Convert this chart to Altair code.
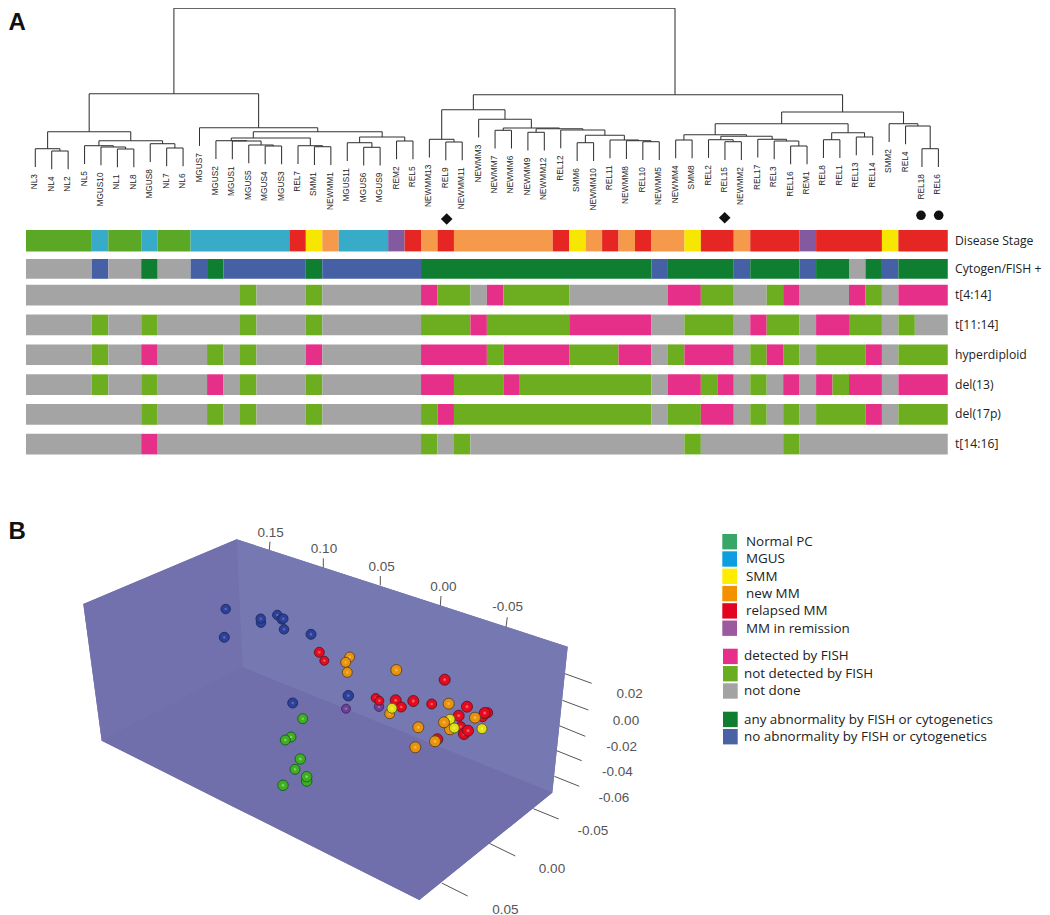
import altair as alt
import pandas as pd

# ---------- samples and dendrogram ----------
SAMPLES = """NL3 NL4 NL2 NL5 MGUS10 NL1 NL8 MGUS8 NL7 NL6 MGUS7 MGUS2 MGUS1 MGUS5 MGUS4 MGUS3 REL7 SMM1 NEWMM1
MGUS11 MGUS6 MGUS9 REM2 REL5 NEWMM13 REL9 NEWMM11 NEWMM3 NEWMM7 NEWMM6 NEWMM9 NEWMM12 REL12 SMM6 NEWMM10 REL11
NEWMM8 REL10 NEWMM5 NEWMM4 SMM8 REL2 REL15 NEWMM2 REL17 REL3 REL16 REM1 REL8 REL1 REL13 REL14 SMM2 REL4 REL18 REL6""".split()

TREE = (8.3,
    (93.7,
        (131.7,
            (148.7, "NL3", (151.0, "NL4", "NL2")),
            (140.7,
                (145.7, "NL5", (147.0, "MGUS10", (149.0, "NL1", "NL8"))),
                (143.7, "MGUS8", (148.0, "NL7", "NL6")))),
        (127.7, "MGUS7",
            (131.7,
                (138.0,
                    (140.7, "MGUS2", (141.0, "MGUS1", (145.0, "MGUS5", (146.0, "MGUS4", "MGUS3")))),
                    (145.7, "REL7", (146.7, "SMM1", "NEWMM1")),
                    253.3),
                (137.0,
                    (142.7, "MGUS11", (147.3, "MGUS6", "MGUS9")),
                    (141.0, "REM2", "REL5"))))),
    (94.7,
        (109.7,
            (139.3, "NEWMM13", (142.0, "REL9", "NEWMM11")),
            (119.3, "NEWMM3",
                (128.0,
                    (130.3, "NEWMM7", "NEWMM6"),
                    (128.7,
                        (132.3, "NEWMM9", "NEWMM12"),
                        (130.0, "REL12",
                            (135.3,
                                (142.7, "SMM6", "NEWMM10"),
                                (140.0, "REL11",
                                    (140.7, "NEWMM8", (141.7, "REL10", "NEWMM5"))))))))),
        (112.0,
            (123.7,
                (134.7,
                    (140.0, "NEWMM4", "SMM8"),
                    (136.3,
                        (139.7, "REL2", (141.7, "REL15", "NEWMM2")),
                        (139.3, "REL17", (141.0, "REL3", (146.0, "REL16", "REM1"))))),
                (132.7,
                    (139.7, "REL8", "REL1"),
                    (137.0, "REL13", "REL14"))),
            (123.7, "SMM2", (126.0, "REL4", (148.7, "REL18", "REL6")))),
        675.0))

LEAF_START = 35.3
LEAF_STEP = 16.42
LEAF_HANG = 18.2
LABEL_GAP = 7.2

# ---------- annotation rows (run lengths over samples) ----------
ROW_NAMES = ["Disease Stage", "Cytogen/FISH +", "t[4:14]", "t[11:14]", "hyperdiploid", "del(13)", "del(17p)", "t[14:16]"]
ROW_TOP = [230.0, 259.0, 284.8, 314.6, 344.4, 374.3, 404.0, 433.8]
ROW_BOTTOM = [251.4, 278.8, 305.4, 335.3, 365.0, 395.0, 424.8, 454.4]

STAGE = [("N",4),("M",1),("N",2),("M",1),("N",2),("M",6),("R",1),("S",1),("O",1),("M",3),("P",1),("R",1),("O",1),("R",1),
         ("O",6),("R",1),("S",1),("O",1),("R",1),("O",1),("R",1),("O",2),("S",1),("R",2),("O",1),("R",3),("P",1),("R",4),("S",1),("R",3)]
CYTO = [("U",4),("B",1),("U",2),("G",1),("U",2),("B",1),("G",1),("B",5),("G",1),("B",6),("G",14),("B",1),("G",4),("B",1),
        ("G",3),("B",1),("G",2),("U",1),("G",1),("B",1),("G",3)]
T414 = [("U",13),("F",1),("U",3),("F",1),("U",6),("D",1),("F",2),("U",1),("D",1),("F",4),("U",6),("D",2),("F",2),("U",2),
        ("F",1),("D",1),("U",3),("D",1),("F",1),("U",1),("D",3)]
T1114 = [("U",4),("F",1),("U",2),("F",1),("U",5),("F",1),("U",3),("F",1),("U",6),("F",3),("D",1),("F",5),("D",5),("U",2),
         ("F",3),("U",1),("D",1),("F",2),("U",1),("D",2),("F",2),("U",1),("F",1),("U",2)]
HYPER = [("U",4),("F",1),("U",2),("D",1),("U",3),("F",1),("U",1),("F",1),("U",3),("D",1),("U",6),("D",4),("F",1),("D",4),
         ("F",3),("D",2),("U",1),("F",1),("D",3),("U",1),("F",1),("D",1),("F",1),("U",1),("F",3),("D",1),("U",1),("F",3)]
DEL13 = [("U",4),("F",1),("U",2),("F",1),("U",3),("D",1),("U",1),("F",1),("U",3),("F",1),("U",6),("D",2),("F",3),("D",1),
         ("F",8),("U",1),("D",2),("F",1),("D",1),("U",1),("F",1),("U",1),("D",1),("U",1),("D",1),("F",1),("D",2),("U",1),("D",3)]
DEL17 = [("U",7),("F",1),("U",3),("F",1),("U",1),("F",1),("U",3),("F",1),("U",6),("F",1),("D",1),("F",12),("U",1),("F",2),
         ("D",2),("U",1),("F",1),("U",1),("F",1),("U",1),("F",3),("D",1),("U",1),("F",3)]
T1416 = [("U",7),("D",1),("U",16),("F",1),("U",1),("F",1),("U",13),("F",1),("U",5),("F",1),("U",9)]
ROWS = [STAGE, CYTO, T414, T1114, HYPER, DEL13, DEL17, T1416]

COL_START = 26.0
COL_STEP = 16.46
CELL_COLORS = {"N":"#5ba826","M":"#38abc9","R":"#e52622","S":"#f6e600","O":"#f59a4b","P":"#835a9f",
               "U":"#a4a4a4","B":"#4560a5","G":"#0f7e30","F":"#6cae20","D":"#e62f88"}

# ---------- marks over the tree ----------
DIAMOND_X = [446.7, 724.7]
DIAMOND_Y = [219.0, 217.7]
DOT_X = [921.0, 938.7]
DOT_Y = [215.3, 215.3]

# ---------- 3D box ----------
BOX_A = (236.7, 539.3); BOX_B = (83.3, 604.0); BOX_C = (101.7, 740.7)
BOX_D = (567.7, 646.7); BOX_E = (552.3, 792.7); BOX_F = (419.3, 900.0); BOX_G = (242.7, 667.3)
LEFT_WALL = [BOX_A, BOX_B, BOX_C, BOX_G]
BACK_WALL = [BOX_A, BOX_D, BOX_E, BOX_G]
FLOOR = [BOX_C, BOX_G, BOX_E, BOX_F]
OUTLINE = [BOX_A, BOX_B, BOX_C, BOX_F, BOX_E, BOX_D]

TICKS = [(270.0,541.7,269.3,550.0),(323.3,558.3,323.3,567.7),(380.3,576.0,380.3,585.3),(441.0,596.0,440.3,605.7),(507.3,617.3,506.0,627.3),
         (565.0,673.7,591.7,683.3),(562.3,700.3,588.3,710.0),(559.3,725.7,585.3,736.3),(556.7,750.7,581.7,760.7),(554.3,776.3,579.3,786.3),
         (533.3,808.7,558.7,819.0),(489.3,843.3,515.3,856.0),(441.7,883.0,467.7,896.0)]
TICK_TEXT = ["0.15","0.10","0.05","0.00","-0.05","0.02","0.00","-0.02","-0.04","-0.06","-0.05","0.00","0.05"]
TICK_TEXT_X = [270.7,324.0,381.7,443.3,507.7,629.7,626.0,621.7,617.3,614.0,593.0,552.0,505.3]
TICK_TEXT_Y = [532.7,549.0,566.7,586.7,607.3,693.7,720.7,747.0,772.3,797.7,831.3,869.0,909.5]

# ---------- points (x, y, diameter) ----------
PURPLE_PTS = [(346.0,708.7,9),(379.0,706.7,9.5)]
BLUE_PTS = [(225.7,609.0,9.5),(261.0,622.7,9.5),(260.7,618.7,9.5),(277.3,615.0,9.5),(281.7,619.3,9.5),(283.3,618.7,9.5),
            (284.0,629.3,9.5),(311.0,634.3,10),(224.3,637.3,10),(292.7,703.0,10),(348.3,695.7,10.5)]
GREEN_PTS = [(302.7,718.7,10),(291.0,737.0,10),(285.3,740.0,10),(300.3,759.0,10.5),(295.0,769.3,10),(306.7,781.0,10.5),(306.7,776.7,10.5),(283.0,785.3,10.5)]
RED_PTS = [(319.3,652.3,10),(324.3,660.7,9),(444.7,679.7,11),(375.7,698.0,9),(379.3,700.7,9),(395.7,700.3,11),(401.3,707.0,10),
           (413.3,701.0,11),(431.7,704.0,10),(467.0,706.7,11),(458.7,715.7,11),(487.7,712.7,10),(482.7,716.7,10),(484.7,713.0,11),
           (460.7,726.7,10),(464.0,734.0,11),(468.0,730.7,11),(437.3,739.3,11)]
ORANGE_PTS = [(349.7,657.0,10),(345.7,662.3,10),(347.3,672.3,10),(396.3,670.0,11),(448.7,703.7,11),(389.7,713.7,10),(475.0,717.7,11),
              (450.0,729.3,11),(418.3,727.3,11),(435.0,741.3,11),(415.3,747.3,11)]
YELLOW_PTS = [(392.0,708.3,10),(450.0,719.3,10),(454.3,728.0,10),(482.0,728.7,10)]
ORANGE_TOP = [(444.0,722.3,11)]

# ---------- legend ----------
LEG1_NAMES = ["Normal PC","MGUS","SMM","new MM","relapsed MM","MM in remission"]
LEG1_COLORS = ["#37a666","#0d9edf","#ffec00","#f39200","#e30421","#9c5a9e"]
LEG2_NAMES = ["detected by FISH","not detected by FISH","not done"]
LEG2_COLORS = ["#e62f8a","#69ad23","#a3a3a3"]
LEG3_NAMES = ["any abnormality by FISH or cytogenetics","no abnormality by FISH or cytogenetics"]
LEG3_COLORS = ["#107d30","#4a63a5"]
LEG_STEP = 17.3

# ---------- scales: picture coordinates of the figure ----------
sx = alt.Scale(domain=[8, 1042], range=[0, 1034], nice=False, zero=False)
sy = alt.Scale(domain=[8, 915], range=[0, 907], nice=False, zero=False)
X = lambda f: alt.X(f, type="quantitative", scale=sx, axis=None, title=None)
Y = lambda f: alt.Y(f, type="quantitative", scale=sy, axis=None, title=None)
SANS = "Liberation Sans"
HUMAN = "Open Sans"

# dendrogram segments
pos = {s: LEAF_START + LEAF_STEP * i for i, s in enumerate(SAMPLES)}
segs = []
def walk(node):
    """returns x of the node, and adds its horizontal bar and vertical drops"""
    h, a, b = node[:3]
    xs = []
    for child in (a, b):
        if isinstance(child, str):
            cx = pos[child]
            segs.append(dict(x=cx, x2=cx, y=h, y2=h + LEAF_HANG))
        else:
            cx = walk(child)
            segs.append(dict(x=cx, x2=cx, y=h, y2=child[0]))
        xs.append(cx)
    segs.append(dict(x=xs[0], x2=xs[1], y=h, y2=h))
    return node[3] if len(node) > 3 else (xs[0] + xs[1]) / 2
walk(TREE)

def leaf_heights(node, out):
    for child in node[1:3]:
        if isinstance(child, str):
            out[child] = node[0] + LEAF_HANG
        else:
            leaf_heights(child, out)
    return out
bottoms = leaf_heights(TREE, {})
leaf_df = pd.DataFrame([dict(x=pos[s], y=bottoms[s] + LABEL_GAP, t=s) for s in SAMPLES])

dendro = alt.Chart(pd.DataFrame(segs)).mark_rule(color="#333333", strokeWidth=1.05).encode(
    x=X("x"), x2="x2", y=Y("y"), y2="y2")
leaf_text = alt.Chart(leaf_df).mark_text(angle=270, align="right", baseline="middle", font=SANS, fontSize=8.3, color="#262626").encode(
    x=X("x"), y=Y("y"), text="t:N")

# heat rows
cells = []
for r, runs in enumerate(ROWS):
    i = 0
    for code, n in runs:
        cells.append(dict(x=COL_START + COL_STEP * i, x2=COL_START + COL_STEP * (i + n), y=ROW_TOP[r], y2=ROW_BOTTOM[r], c=CELL_COLORS[code]))
        i += n
    assert i == 56, (r, i)
heat = alt.Chart(pd.DataFrame(cells)).mark_rect(strokeWidth=0).encode(
    x=X("x"), x2="x2", y=Y("y"), y2="y2", fill=alt.Fill("c:N", scale=None, legend=None))
row_text = alt.Chart(pd.DataFrame(dict(x=[955.0] * 8, y=[(a + b) / 2 for a, b in zip(ROW_TOP, ROW_BOTTOM)], t=ROW_NAMES))).mark_text(
    align="left", baseline="middle", font=HUMAN, fontSize=12.2, color="#222222").encode(x=X("x"), y=Y("y"), text="t:N")

diamonds = alt.Chart(pd.DataFrame(dict(x=DIAMOND_X, y=DIAMOND_Y))).mark_point(shape="diamond", filled=True, color="#111111", size=135, opacity=1).encode(x=X("x"), y=Y("y"))
dots = alt.Chart(pd.DataFrame(dict(x=DOT_X, y=DOT_Y))).mark_point(shape="circle", filled=True, color="#111111", size=92, opacity=1).encode(x=X("x"), y=Y("y"))

# box faces as areas
def poly_area(poly, color):
    xs = sorted(set(p[0] for p in poly))
    rows = []
    n = len(poly)
    for x in xs:
        ys = []
        for k in range(n):
            (x0, y0), (x1, y1) = poly[k], poly[(k + 1) % n]
            if min(x0, x1) <= x <= max(x0, x1):
                if x0 == x1:
                    ys += [y0, y1]
                else:
                    ys.append(y0 + (y1 - y0) * (x - x0) / (x1 - x0))
        rows.append(dict(x=x, y=min(ys), y2=max(ys)))
    return alt.Chart(pd.DataFrame(rows)).mark_area(color=color, opacity=1, line=False).encode(x=X("x"), y=Y("y"), y2="y2")

box = [poly_area(OUTLINE, "#7272ad"), poly_area(LEFT_WALL, "#7271ad"), poly_area(BACK_WALL, "#7678b2"), poly_area(FLOOR, "#706eab")]

tick_df = pd.DataFrame(TICKS, columns=["x", "y", "x2", "y2"])
ticks = alt.Chart(tick_df).mark_rule(color="#555555", strokeWidth=1).encode(x=X("x"), x2="x2", y=Y("y"), y2="y2")
tick_text = alt.Chart(pd.DataFrame(dict(x=TICK_TEXT_X, y=TICK_TEXT_Y, t=TICK_TEXT))).mark_text(
    align="center", baseline="middle", font=SANS, fontSize=13.5, color="#555555").encode(x=X("x"), y=Y("y"), text="t:N")

def spheres(pts, edge, body, glow):
    df = pd.DataFrame(pts, columns=["x", "y", "d"])
    df["s"] = df["d"] ** 2
    grad = alt.RadialGradient(gradient="radial", stops=[alt.GradientStop(offset=0, color=glow),
                                                        alt.GradientStop(offset=0.35, color=body),
                                                        alt.GradientStop(offset=1, color=body)])
    return alt.Chart(df).mark_point(shape="circle", filled=True, fill=grad, stroke=edge, strokeWidth=1, opacity=1, fillOpacity=1, strokeOpacity=0.9).encode(
        x=X("x"), y=Y("y"), size=alt.Size("s:Q", scale=None, legend=None))

balls = [spheres(PURPLE_PTS, "#3e2a5e", "#6b3f98", "#b79ad0"),
         spheres(BLUE_PTS, "#1d2a5e", "#2c409a", "#7c8cc8"),
         spheres(GREEN_PTS, "#1a5a20", "#3fae22", "#b5e88c"),
         spheres(RED_PTS, "#5e1520", "#e40a20", "#ff9a8a"),
         spheres(ORANGE_PTS, "#5e4020", "#e8930c", "#ffcf70"),
         spheres(YELLOW_PTS, "#5e5a20", "#dfe014", "#f8f88c"),
         spheres(ORANGE_TOP, "#5e4020", "#e8930c", "#ffcf70")]

# legend as swatches and text
def legend(names, colors, x0, x1, top, h, tx, tc):
    sw = pd.DataFrame(dict(x=[x0] * len(names), x2=[x1] * len(names),
                           y=[top + LEG_STEP * i for i in range(len(names))],
                           y2=[top + h + LEG_STEP * i for i in range(len(names))], c=colors))
    tt = pd.DataFrame(dict(x=[tx] * len(names), y=[tc + LEG_STEP * i for i in range(len(names))], t=names))
    return [alt.Chart(sw).mark_rect(strokeWidth=0).encode(x=X("x"), x2="x2", y=Y("y"), y2="y2", fill=alt.Fill("c:N", scale=None, legend=None)),
            alt.Chart(tt).mark_text(align="left", baseline="middle", font=HUMAN, fontSize=13.4, color="#222222").encode(x=X("x"), y=Y("y"), text="t:N")]

legs = (legend(LEG1_NAMES, LEG1_COLORS, 722.3, 737.0, 534.0, 15.4, 746.0, 542.0)
        + legend(LEG2_NAMES, LEG2_COLORS, 723.0, 737.7, 648.7, 15.4, 744.0, 656.3)
        + legend(LEG3_NAMES, LEG3_COLORS, 723.0, 737.7, 711.7, 15.4, 744.0, 720.0))

panels = alt.Chart(pd.DataFrame(dict(x=[8.5, 8.5], y=[30.0, 539.0], t=["A", "B"]))).mark_text(
    align="left", baseline="alphabetic", font=SANS, fontWeight="bold", fontSize=24, color="#111111").encode(x=X("x"), y=Y("y"), text="t:N")

chart = alt.layer(dendro, leaf_text, heat, row_text, diamonds, dots, *box, ticks, tick_text, *balls, *legs, panels).properties(
    width=1034, height=907, padding=0, autosize=alt.AutoSizeParams(type="none")).configure_view(stroke=None)

chart.save("out.html", embed_options={"renderer": "svg", "actions": False})
